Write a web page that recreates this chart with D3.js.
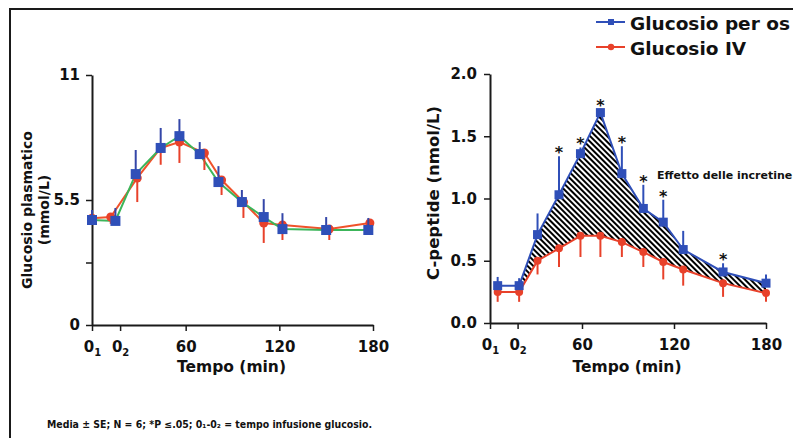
<!DOCTYPE html>
<html>
<head>
<meta charset="utf-8">
<script src="https://cdn.jsdelivr.net/npm/d3@7"></script>
<style>
  body { margin: 0; background: #fff; }
  svg { display: block; font-family: "DejaVu Sans", Verdana, sans-serif; font-weight: bold; }
</style>
</head>
<body>
<div id="chart"></div>
<script>
// x ticks shared by both panels (0_1 - 0_2 = infusion time)
const xTickValues = [0, 18, 60, 120, 180];
const xTickMain = ["0", "0", "60", "120", "180"];
const xTickSub = ["1", "2", "", "", ""];

// left panel: glucosio plasmatico (mmol/L)
const glucTimeOs = [0, 15, 28, 44, 56, 69, 81, 96, 110, 122, 150, 177];
const glucOs = [4.62, 4.58, 6.64, 7.79, 8.31, 7.52, 6.29, 5.41, 4.75, 4.22, 4.18, 4.18];
const glucOsSE = [0.44, 0.57, 1.06, 0.88, 0.75, 0.53, 0.70, 0.53, 0.79, 0.70, 0.57, 0.53];
const glucTimeIV = [0, 12, 29, 44, 56, 72, 83, 97, 110, 122, 152, 178];
const glucIV = [4.70, 4.75, 6.47, 7.79, 8.05, 7.57, 6.38, 5.41, 4.49, 4.40, 4.22, 4.49];
const glucIVSE = [0.30, 0.30, 1.06, 0.74, 0.92, 0.75, 0.66, 0.70, 0.88, 0.66, 0.48, 0.22];
const glucTicks = [0, 2.75, 5.5, 11];

// right panel: C-peptide (nmol/L)
const cpTime = [5, 19, 31, 45, 59, 72, 86, 100, 113, 126, 152, 180];
const cpOs = [0.30, 0.30, 0.71, 1.03, 1.36, 1.69, 1.20, 0.92, 0.81, 0.59, 0.41, 0.32];
const cpOsSE = [0.07, 0.06, 0.17, 0.31, 0.05, 0.03, 0.22, 0.19, 0.18, 0.15, 0.07, 0.07];
const cpIV = [0.25, 0.25, 0.50, 0.60, 0.70, 0.70, 0.65, 0.57, 0.49, 0.43, 0.32, 0.24];
const cpIVSE = [0.08, 0.08, 0.11, 0.15, 0.17, 0.17, 0.12, 0.12, 0.14, 0.13, 0.11, 0.07];
const cpSig = [false, false, false, true, true, true, true, true, true, false, true, false];
const cpTicks = [0, 0.5, 1.0, 1.5, 2.0];

const W = 793, H = 438;
const BLUE = "#2f4fb8", RED = "#e8412a", GREEN = "#3cb55a", ORANGE = "#f0522a";

const svg = d3.select("#chart").append("svg")
    .attr("width", W)
    .attr("height", H);

// hatch pattern for the incretin effect
svg.append("defs").append("pattern")
    .attr("id", "hatch")
    .attr("patternUnits", "userSpaceOnUse")
    .attr("width", 4).attr("height", 4)
    .attr("patternTransform", "rotate(-45)")
    .append("rect")
    .attr("width", 2).attr("height", 4)
    .attr("fill", "#000");

// frame (top + left)
svg.append("path")
    .attr("d", `M10,${H}V9H${W}`)
    .attr("fill", "none")
    .attr("stroke", "#1a1a1a")
    .attr("stroke-width", 2);

function drawPanel(p) {
    const x = d3.scaleLinear().domain([0, 180]).range(p.xRange);
    const y = d3.scaleLinear().domain(p.yDomain).range(p.yRange);
    const g = svg.append("g");

    // x axis
    const xa = g.append("g")
        .attr("transform", `translate(0,${p.yRange[0]})`)
        .call(d3.axisBottom(x).tickValues(xTickValues).tickSize(6).tickSizeOuter(0)
            .tickPadding(10).tickFormat(""));
    xa.selectAll(".tick text").each(function (d, i) {
        const t = d3.select(this);
        t.append("tspan").text(xTickMain[i]);
        if (xTickSub[i]) t.append("tspan").attr("font-size", 10).attr("dy", 4).text(xTickSub[i]);
    });

    // y axis
    const ya = g.append("g")
        .attr("transform", `translate(${p.xRange[0]},0)`)
        .call(d3.axisLeft(y).tickValues(p.yTicks).tickSize(6).tickSizeOuter(0)
            .tickPadding(p.yPad).tickFormat(p.yFormat));

    [xa, ya].forEach(a => {
        a.select(".domain").attr("stroke", "#1a1a1a").attr("stroke-width", 2);
        a.selectAll(".tick line").attr("stroke", "#1a1a1a").attr("stroke-width", 1.5);
        a.selectAll(".tick text").attr("fill", "#111").attr("font-size", 15)
            .attr("font-family", "DejaVu Sans").attr("font-weight", "bold");
    });

    // axis titles
    g.append("text")
        .attr("x", (x(60) + x(120)) / 2 - 1)
        .attr("y", 372)
        .attr("text-anchor", "middle")
        .attr("font-size", 15.5)
        .attr("fill", "#111")
        .text("Tempo (min)");

    p.yTitle.forEach(line => {
        g.append("text")
            .attr("transform", `translate(${line.x},${p.yTitleMid}) rotate(-90)`)
            .attr("text-anchor", "middle")
            .attr("font-size", line.size)
            .attr("fill", "#111")
            .text(line.text);
    });

    return { g, x, y };
}

// ---------- left panel ----------
{
    const { g, x, y } = drawPanel({
        xRange: [92, 373], yRange: [325, 75], yDomain: [0, 11],
        yTicks: glucTicks, yPad: 6,
        yFormat: d => d === 2.75 ? "" : d,
        yTitleMid: 210,
        yTitle: [
            { text: "Glucosio plasmatico", x: 32, size: 14 },
            { text: "(mmol/L)", x: 49, size: 14 }
        ]
    });
    const idx = d3.range(glucOs.length);

    const lineIV = d3.line().x(i => x(glucTimeIV[i])).y(i => y(glucIV[i]));
    const lineOs = d3.line().x(i => x(glucTimeOs[i])).y(i => y(glucOs[i]));

    g.append("path").attr("d", lineIV(idx)).attr("fill", "none")
        .attr("stroke", ORANGE).attr("stroke-width", 2);
    g.append("path").attr("d", lineOs(idx)).attr("fill", "none")
        .attr("stroke", GREEN).attr("stroke-width", 2);

    // IV: error down + circles
    g.selectAll(".errIV").data(idx).join("line")
        .attr("x1", i => x(glucTimeIV[i])).attr("x2", i => x(glucTimeIV[i]))
        .attr("y1", i => y(glucIV[i])).attr("y2", i => y(glucIV[i] - glucIVSE[i]))
        .attr("stroke", RED).attr("stroke-width", 2);
    g.selectAll(".ptIV").data(idx).join("circle")
        .attr("cx", i => x(glucTimeIV[i])).attr("cy", i => y(glucIV[i]))
        .attr("r", 4.5).attr("fill", RED);

    // per os: error up + squares
    g.selectAll(".errOs").data(idx).join("line")
        .attr("x1", i => x(glucTimeOs[i])).attr("x2", i => x(glucTimeOs[i]))
        .attr("y1", i => y(glucOs[i])).attr("y2", i => y(glucOs[i] + glucOsSE[i]))
        .attr("stroke", "#3446a8").attr("stroke-width", 2);
    g.selectAll(".ptOs").data(idx).join("rect")
        .attr("x", i => x(glucTimeOs[i]) - 5).attr("y", i => y(glucOs[i]) - 5)
        .attr("width", 10).attr("height", 10).attr("fill", BLUE);
}

// ---------- right panel ----------
{
    const { g, x, y } = drawPanel({
        xRange: [490, 766], yRange: [323, 74], yDomain: [0, 2],
        yTicks: cpTicks, yPad: 7,
        yFormat: d3.format(".1f"),
        yTitleMid: 193,
        yTitle: [{ text: "C-peptide (nmol/L)", x: 439, size: 16.5 }]
    });
    const idx = d3.range(cpOs.length);

    // incretin effect: hatched area between the two curves from 0_2 on
    const area = d3.area()
        .x(i => x(cpTime[i]))
        .y0(i => y(cpIV[i]))
        .y1(i => y(cpOs[i]));
    g.append("path").attr("d", area(idx.slice(1))).attr("fill", "url(#hatch)");

    const lineIV = d3.line().x(i => x(cpTime[i])).y(i => y(cpIV[i]));
    const lineOs = d3.line().x(i => x(cpTime[i])).y(i => y(cpOs[i]));
    g.append("path").attr("d", lineIV(idx)).attr("fill", "none")
        .attr("stroke", RED).attr("stroke-width", 2);
    g.append("path").attr("d", lineOs(idx)).attr("fill", "none")
        .attr("stroke", BLUE).attr("stroke-width", 2);

    g.selectAll(".errIV").data(idx).join("line")
        .attr("x1", i => x(cpTime[i])).attr("x2", i => x(cpTime[i]))
        .attr("y1", i => y(cpIV[i])).attr("y2", i => y(cpIV[i] - cpIVSE[i]))
        .attr("stroke", RED).attr("stroke-width", 2);
    g.selectAll(".ptIV").data(idx).join("circle")
        .attr("cx", i => x(cpTime[i])).attr("cy", i => y(cpIV[i]))
        .attr("r", 4).attr("fill", RED);

    g.selectAll(".errOs").data(idx).join("line")
        .attr("x1", i => x(cpTime[i])).attr("x2", i => x(cpTime[i]))
        .attr("y1", i => y(cpOs[i])).attr("y2", i => y(cpOs[i] + cpOsSE[i]))
        .attr("stroke", BLUE).attr("stroke-width", 2);
    g.selectAll(".ptOs").data(idx).join("rect")
        .attr("x", i => x(cpTime[i]) - 4.5).attr("y", i => y(cpOs[i]) - 4.5)
        .attr("width", 9).attr("height", 9).attr("fill", BLUE);

    // significance stars
    g.selectAll(".star").data(idx.filter(i => cpSig[i])).join("text")
        .attr("x", i => x(cpTime[i]))
        .attr("y", i => y(cpOs[i] + cpOsSE[i]) + 2)
        .attr("text-anchor", "middle")
        .attr("font-size", 16)
        .attr("fill", "#111")
        .text("*");

    g.append("text")
        .attr("x", 657).attr("y", 179)
        .attr("font-size", 11)
        .attr("fill", "#111")
        .text("Effetto delle incretine");
}

// legend
const legend = [
    { label: "Glucosio per os", color: BLUE, shape: "square" },
    { label: "Glucosio IV", color: RED, shape: "circle" }
];
const lg = svg.append("g").attr("transform", "translate(596,22)");
legend.forEach((d, i) => {
    const row = lg.append("g").attr("transform", `translate(0,${i * 25})`);
    row.append("line").attr("x1", 0).attr("x2", 29)
        .attr("stroke", d.color).attr("stroke-width", 2);
    if (d.shape === "square") {
        row.append("rect").attr("x", 12).attr("y", -3).attr("width", 6).attr("height", 6).attr("fill", d.color);
    } else {
        row.append("circle").attr("cx", 15).attr("r", 3.2).attr("fill", d.color);
    }
    row.append("text").attr("x", 34).attr("y", 8)
        .attr("font-size", 18.5)
        .attr("fill", "#111")
        .text(d.label);
});

// footnote
svg.append("text")
    .attr("x", 47).attr("y", 428)
    .attr("font-size", 10)
    .attr("fill", "#111")
    .attr("textLength", 325)
    .attr("lengthAdjust", "spacingAndGlyphs")
    .text("Media ± SE; N = 6; *P ≤.05; 0₁-0₂ = tempo infusione glucosio.");
</script>
</body>
</html>
